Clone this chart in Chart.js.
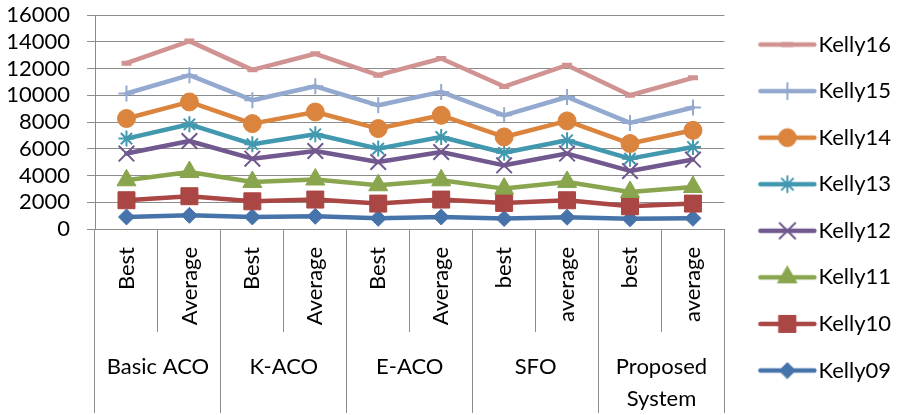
<!DOCTYPE html>
<html>
<head>
<meta charset="utf-8">
<script src="https://cdn.jsdelivr.net/npm/chart.js@4/dist/chart.umd.min.js"></script>
<style>
  html, body { margin: 0; padding: 0; background: #ffffff; }
  #wrap { width: 899px; height: 415px; }
</style>
</head>
<body>
<div id="wrap"><canvas id="chart" width="899" height="415"></canvas></div>
<script>
// Run categories (inner level) and algorithm groups (outer level)
const categories = ['Best', 'Average', 'Best', 'Average', 'Best', 'Average', 'best', 'average', 'best', 'average'];
const groups = ['Basic ACO', 'K-ACO', 'E-ACO', 'SFO', ['Proposed', 'System']];

// Value axis range
const yMin = 0;
const yMax = 16000;
const yStep = 2000;

// Results per instance
const kelly09 = [900, 1020, 900, 950, 800, 900, 780, 880, 760, 800];
const kelly10 = [2150, 2450, 2070, 2200, 1900, 2200, 1950, 2150, 1700, 1900];
const kelly11 = [3640, 4260, 3520, 3700, 3270, 3640, 3020, 3520, 2770, 3140];
const kelly12 = [5640, 6580, 5260, 5830, 5010, 5760, 4760, 5640, 4340, 5190];
const kelly13 = [6760, 7830, 6340, 7080, 6010, 6880, 5700, 6630, 5260, 6130];
const kelly14 = [8260, 9500, 7880, 8750, 7510, 8500, 6880, 8080, 6390, 7380];
const kelly15 = [10130, 11500, 9630, 10670, 9250, 10250, 8500, 9870, 7930, 9080];
const kelly16 = [12400, 14050, 11900, 13100, 11500, 12750, 10650, 12250, 10000, 11300];

const seriesNames = ['Kelly09', 'Kelly10', 'Kelly11', 'Kelly12', 'Kelly13', 'Kelly14', 'Kelly15', 'Kelly16'];
const seriesValues = [kelly09, kelly10, kelly11, kelly12, kelly13, kelly14, kelly15, kelly16];

// Look of each series: colour and marker
const seriesStyles = [
  { color: '#4673AA', marker: 'rectRot',  radius: 8,  markerLine: 1 },
  { color: '#AA4643', marker: 'rect',     radius: 12, markerLine: 1 },
  { color: '#89A54E', marker: 'triangle', radius: 11, markerLine: 1 },
  { color: '#71588F', marker: 'crossRot', radius: 11, markerLine: 2 },
  { color: '#4198AF', marker: 'star',     radius: 8,  markerLine: 2 },
  { color: '#DB843D', marker: 'circle',   radius: 9,  markerLine: 1 },
  { color: '#93A9CF', marker: 'cross',    radius: 8,  markerLine: 2 },
  { color: '#D19392', marker: 'line',     radius: 5,  markerLine: 5 }
];

const FONT = { family: 'Lato', size: 22 };
const GRID = '#8c8c8c';
const LINE_W = 4.5;

// Legend swatch: a short line with the series marker in its middle
function legendSwatch(st) {
  const W = 80, H = 28;
  const x0 = W / 2 - 17.8, x1 = W / 2 + 36.2;
  const cv = document.createElement('canvas');
  cv.width = W; cv.height = H;
  const g = cv.getContext('2d');
  g.strokeStyle = st.color;
  g.lineWidth = LINE_W;
  g.lineCap = 'round';
  g.beginPath();
  g.moveTo(x0, H / 2);
  g.lineTo(x1, H / 2);
  g.stroke();
  g.fillStyle = st.color;
  g.strokeStyle = st.color;
  g.lineWidth = st.markerLine;
  Chart.helpers.drawPoint(g, { pointStyle: st.marker, radius: st.radius, rotation: 0, borderWidth: st.markerLine }, (x0 + x1) / 2, H / 2);
  return cv;
}

const datasets = seriesNames.map((name, i) => {
  const st = seriesStyles[i];
  return {
    label: name,
    data: seriesValues[i],
    borderColor: st.color,
    backgroundColor: st.color,
    borderWidth: LINE_W,
    borderJoinStyle: 'round',
    borderCapStyle: 'round',
    pointStyle: st.marker,
    pointRadius: st.radius,
    pointHoverRadius: st.radius,
    pointBorderWidth: st.markerLine,
    pointBackgroundColor: st.color,
    pointBorderColor: st.color,
    tension: 0,
    fill: false,
    order: seriesNames.length - i
  };
});

new Chart(document.getElementById('chart'), {
  type: 'line',
  data: { labels: categories, datasets: datasets },
  options: {
    responsive: false,
    animation: false,
    events: [],
    layout: { padding: { top: 0, right: -2, bottom: 0, left: 0 } },
    plugins: {
      tooltip: { enabled: false },
      legend: {
        position: 'right',
        align: 'center',
        labels: {
          font: FONT,
          color: '#000000',
          padding: 24.57,
          usePointStyle: true,
          pointStyleWidth: 58.4,
          generateLabels: (chart) => {
            const items = seriesNames.map((name, i) => ({
              text: name,
              datasetIndex: i,
              fillStyle: seriesStyles[i].color,
              strokeStyle: seriesStyles[i].color,
              fontColor: '#000000',
              lineWidth: 0,
              hidden: false,
              pointStyle: legendSwatch(seriesStyles[i])
            }));
            return items.reverse();
          }
        }
      }
    },
    scales: {
      x: {
        type: 'category',
        position: 'bottom',
        offset: true,
        afterFit: (s) => { s.height = 103; },
        grid: { offset: true, drawOnChartArea: false, drawTicks: true, tickLength: 103, color: GRID, lineWidth: 1 },
        border: { display: true, color: GRID, width: 1 },
        ticks: { font: FONT, color: '#000000', minRotation: 90, maxRotation: 90, autoSkip: false, padding: -85 }
      },
      x2: {
        type: 'category',
        position: 'bottom',
        labels: groups,
        offset: true,
        afterFit: (s) => { s.height = 83; },
        grid: { offset: true, drawOnChartArea: false, drawTicks: true, tickLength: 81, color: GRID, lineWidth: 1 },
        border: { display: false },
        ticks: { font: Object.assign({ lineHeight: 1.45 }, FONT), color: '#000000', maxRotation: 0, minRotation: 0, autoSkip: false, padding: -62.3 }
      },
      y: {
        min: yMin,
        max: yMax,
        afterFit: (s) => { s.width = 95; s.paddingTop = 15; s.paddingBottom = 0; },
        grid: { color: GRID, lineWidth: 1, drawTicks: true, tickLength: 8 },
        border: { display: true, color: GRID, width: 1 },
        ticks: { stepSize: yStep, font: FONT, color: '#000000', padding: 17, autoSkip: false, callback: (v) => String(v) }
      }
    }
  }
});
</script>
</body>
</html>
